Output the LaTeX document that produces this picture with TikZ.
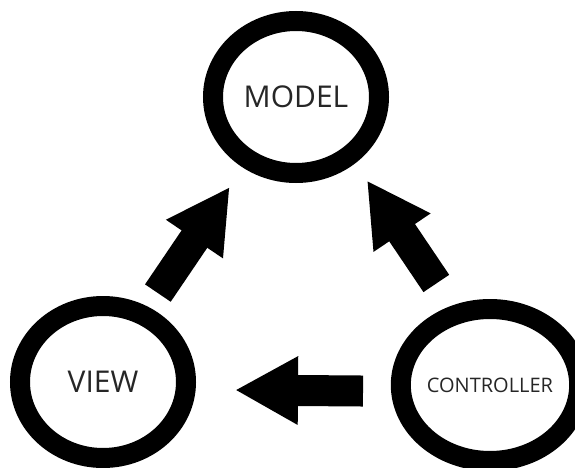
\documentclass[tikz,border=0pt]{standalone}
\usepackage{fontspec}
\setmainfont{Open Sans}
\usetikzlibrary{shapes.geometric,arrows.meta}
\tikzset{ring/.style={ellipse,draw,line width=20pt,minimum width=166pt,minimum height=152pt,inner sep=0pt,text=black!85},
  fat/.style={line width=31pt,->}}

\begin{document}
\begin{tikzpicture}[x=1pt,y=1pt,>={Triangle[length=63pt,width=64pt]}]
    \useasboundingbox (0,0) rectangle (575,467);
    \node[ring,font=\fontsize{30}{36}\selectfont] (model) at (296,370) {MODEL};
    \node[ring,font=\fontsize{30}{36}\selectfont] (view) at (103,85) {VIEW};
    \node[ring,font=\fontsize{20}{24}\selectfont] (ctrl) at (490,82) {CONTROLLER};

    \draw [fat,shorten <=105pt,shorten >=111pt,transform canvas={shift={(-4pt,2pt)}}] (view.center) to (model.center);
    \draw [fat,shorten <=114pt,shorten >=109pt,transform canvas={shift={(10pt,7pt)}}] (ctrl.center) to (model.center);
    \draw [fat,shorten <=127pt,shorten >=132pt,transform canvas={yshift=-7pt}] (ctrl.center) to (view.center);
\end{tikzpicture}
\end{document}
